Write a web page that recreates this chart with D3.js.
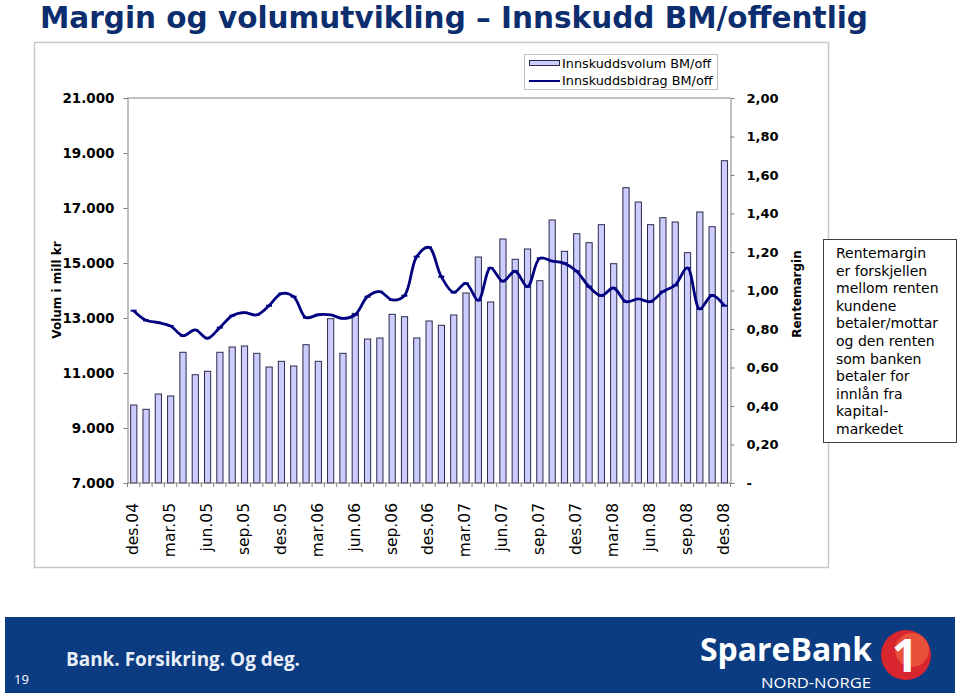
<!DOCTYPE html>
<html><head><meta charset="utf-8">
<script src="https://cdn.jsdelivr.net/npm/d3@7/dist/d3.min.js"></script>
<style>body{margin:0;background:#fff}svg{display:block}</style>
</head><body>
<svg id="c" width="960" height="696"></svg>
<script>
const categories = ["des.04","jan.05","feb.05","mar.05","apr.05","mai.05","jun.05","jul.05","aug.05","sep.05","okt.05","nov.05",
"des.05","jan.06","feb.06","mar.06","apr.06","mai.06","jun.06","jul.06","aug.06","sep.06","okt.06","nov.06",
"des.06","jan.07","feb.07","mar.07","apr.07","mai.07","jun.07","jul.07","aug.07","sep.07","okt.07","nov.07",
"des.07","jan.08","feb.08","mar.08","apr.08","mai.08","jun.08","jul.08","aug.08","sep.08","okt.08","nov.08","des.08"];
const volum = [9836,9680,10236,10164,11753,10938,11062,11753,11945,11982,11716,11218,
11425,11255,12029,11425,12975,11716,13170,12236,12273,13135,13047,12273,
12891,12735,13109,13909,15218,13582,15873,15134,15509,14357,16564,15425,
16065,15738,16393,14975,17738,17218,16393,16647,16491,15375,16855,16320,18720];
const margin = [0.895,0.845,0.833,0.816,0.765,0.795,0.752,0.807,0.869,0.885,0.873,0.921,
0.984,0.968,0.859,0.874,0.873,0.855,0.874,0.968,0.994,0.951,0.973,1.176,
1.224,1.072,0.990,1.037,0.949,1.117,1.048,1.100,1.020,1.167,1.153,1.141,
1.100,1.020,0.973,1.013,0.942,0.956,0.942,0.994,1.027,1.117,0.904,0.975,0.921];
const leftTicks = [7000,9000,11000,13000,15000,17000,19000,21000];
const rightTicks = [0,0.2,0.4,0.6,0.8,1.0,1.2,1.4,1.6,1.8,2.0];
const xLabels = ["des.04","mar.05","jun.05","sep.05","des.05","mar.06","jun.06","sep.06","des.06","mar.07","jun.07","sep.07","des.07","mar.08","jun.08","sep.08","des.08"];
const noteLines = ["Rentemargin","er forskjellen","mellom renten","kundene","betaler/mottar","og den renten","som banken","betaler for","innlån fra","kapital-","markedet"];
const seriesNames = ["Innskuddsvolum BM/off","Innskuddsbidrag BM/off"];

const svg = d3.select("#c");
const L = 127.5, R = 730.5, T = 98, B = 483;
const font = "'DejaVu Sans', Verdana, sans-serif";

// Title
svg.append("text").attr("x",40).attr("y",28)
  .attr("font-family","'DejaVu Sans Condensed','DejaVu Sans',sans-serif").attr("font-weight","bold")
  .attr("font-size",31).attr("fill","#0c2d6e")
  .attr("textLength",828).attr("lengthAdjust","spacingAndGlyphs")
  .text("Margin og volumutvikling – Innskudd BM/offentlig");

// chart frame
svg.append("rect").attr("x",34.5).attr("y",42.5).attr("width",794).attr("height",525)
  .attr("fill","none").attr("stroke","#c8c8c8").attr("stroke-width",1.5);

const xb = d3.scaleBand().domain(categories).range([L,R]);
const yL = d3.scaleLinear().domain([7000,21000]).range([B,T]);
const yR = d3.scaleLinear().domain([0,2]).range([B,T]);
const cx = i => xb(categories[i]) + xb.bandwidth()/2;

// plot border top
svg.append("line").attr("x1",L).attr("x2",R).attr("y1",T).attr("y2",T).attr("stroke","#808080");

// bars
svg.append("g").selectAll("rect").data(volum).join("rect")
  .attr("x",(d,i)=>cx(i)-3)
  .attr("width",6.2)
  .attr("y",d=>yL(d)).attr("height",d=>B-yL(d))
  .attr("fill","#ccccff").attr("stroke","#2a2a4a").attr("stroke-width",1);

// left axis
const gL = svg.append("g").attr("transform",`translate(${L},0)`)
  .call(d3.axisLeft(yL).tickValues(leftTicks).tickSize(4).tickPadding(9)
    .tickFormat(d=>d3.format(",")(d).replace(/,/g,".")));
gL.select(".domain").attr("stroke","#808080");
gL.selectAll(".tick line").attr("stroke","#808080");
gL.selectAll("text").attr("font-family",font).attr("font-weight","bold").attr("font-size",13.5).attr("fill","#000");

// right axis
const gR = svg.append("g").attr("transform",`translate(${R},0)`)
  .call(d3.axisRight(yR).tickValues(rightTicks).tickSize(4).tickPadding(12)
    .tickFormat(d=>d===0?"-":d3.format(".2f")(d).replace(".",",")));
gR.select(".domain").attr("stroke","#808080");
gR.selectAll(".tick line").attr("stroke","#808080");
gR.selectAll("text").attr("font-family",font).attr("font-weight","bold").attr("font-size",13).attr("fill","#000");

// bottom axis
const gB = svg.append("g").attr("transform",`translate(0,${B})`);
gB.append("line").attr("x1",L).attr("x2",R).attr("stroke","#808080");
gB.selectAll("line.t").data(categories.concat(["end"])).join("line").attr("class","t")
  .attr("x1",(d,i)=>L+i*xb.step()).attr("x2",(d,i)=>L+i*xb.step())
  .attr("y1",0).attr("y2",4).attr("stroke","#808080");
gB.selectAll("text").data(xLabels).join("text")
  .attr("transform",d=>`translate(${xb(d)+xb.bandwidth()/2-1},20) rotate(-90)`)
  .attr("text-anchor","end").attr("dy","0.35em")
  .attr("font-family",font).attr("font-size",15.5).attr("fill","#000").text(d=>d);

// line
const line = d3.line().x((d,i)=>cx(i)).y(d=>yR(d)).curve(d3.curveCatmullRom);
svg.append("path").datum(margin).attr("d",line).attr("fill","none")
  .attr("stroke","#000080").attr("stroke-width",2.8).attr("stroke-linejoin","round");
svg.append("g").selectAll("line").data(margin).join("line")
  .attr("x1",(d,i)=>cx(i)-3).attr("x2",(d,i)=>cx(i)+3)
  .attr("y1",d=>yR(d)).attr("y2",d=>yR(d)).attr("stroke","#000080").attr("stroke-width",2);

// axis titles
svg.append("text").attr("transform","translate(61,290) rotate(-90)").attr("text-anchor","middle")
  .attr("font-family",font).attr("font-weight","bold").attr("font-size",12).text("Volum i mill kr");
svg.append("text").attr("transform","translate(801,294) rotate(-90)").attr("text-anchor","middle")
  .attr("font-family",font).attr("font-weight","bold").attr("font-size",12).text("Rentemargin");

// legend
const lg = svg.append("g");
lg.append("rect").attr("x",524.5).attr("y",54.5).attr("width",193).attr("height",35)
  .attr("fill","#fff").attr("stroke","#c0c0c0");
lg.append("rect").attr("x",529.5).attr("y",60.5).attr("width",30).attr("height",5)
  .attr("fill","#ccccff").attr("stroke","#2a2a4a");
lg.append("line").attr("x1",529).attr("x2",560).attr("y1",81).attr("y2",81).attr("stroke","#000080").attr("stroke-width",2);
lg.selectAll("text").data(seriesNames).join("text")
  .attr("x",562).attr("y",(d,i)=>68+i*17).attr("font-family",font).attr("font-size",12.8).attr("fill","#000").text(d=>d);

// note box
svg.append("rect").attr("x",823.5).attr("y",239.5).attr("width",133).attr("height",203)
  .attr("fill","#fff").attr("stroke","#404040");
svg.append("g").selectAll("text").data(noteLines).join("text")
  .attr("x",836).attr("y",(d,i)=>258+i*17.6)
  .attr("font-family",font).attr("font-size",14).attr("fill","#000").text(d=>d);

// footer
svg.append("rect").attr("x",5).attr("y",617).attr("width",950).attr("height",76).attr("fill","#0b3b80");
svg.append("text").attr("x",14).attr("y",684).attr("font-family","'Open Sans',sans-serif").attr("font-size",13).attr("fill","#fff").text("19");
svg.append("text").attr("x",66).attr("y",666).attr("font-family","'Open Sans',sans-serif").attr("font-weight","bold")
  .attr("font-size",19).attr("fill","#e8eef8").attr("textLength",234).attr("lengthAdjust","spacingAndGlyphs").text("Bank. Forsikring. Og deg.");
svg.append("text").attr("x",700).attr("y",661).attr("font-family","'Open Sans',sans-serif").attr("font-weight","bold")
  .attr("font-size",32).attr("fill","#fff").attr("textLength",172).attr("lengthAdjust","spacingAndGlyphs").text("SpareBank");
svg.append("text").attr("x",871).attr("y",688).attr("text-anchor","end").attr("font-family","'Open Sans',sans-serif")
  .attr("font-size",15).attr("fill","#fff").attr("textLength",110).attr("lengthAdjust","spacingAndGlyphs").text("NORD-NORGE");
svg.append("circle").attr("cx",906).attr("cy",655).attr("r",25).attr("fill","#d9262e");
svg.append("circle").attr("cx",912).attr("cy",650).attr("r",17).attr("fill","#e8503a");
svg.append("text").attr("x",905).attr("y",672).attr("text-anchor","middle").attr("font-family","'Open Sans',sans-serif")
  .attr("font-weight","bold").attr("font-size",46).attr("fill","#fff").text("1");
</script>
</body></html>
